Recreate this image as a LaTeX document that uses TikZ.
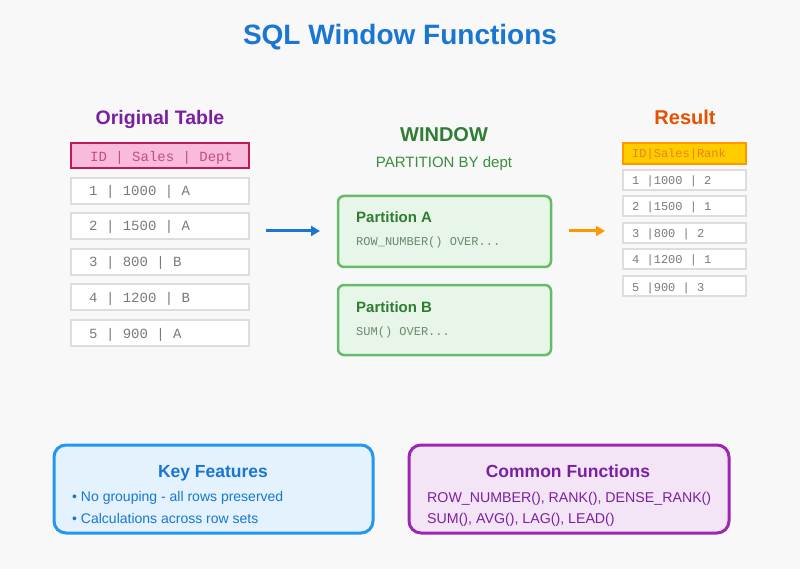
\documentclass[tikz,border=0pt]{standalone}
\usepackage{fontspec}
\setmainfont{Liberation Sans}
\setmonofont{Liberation Mono}
\usetikzlibrary{arrows.meta}
\definecolor{bgc}{HTML}{F8F8F8}
\definecolor{blueT}{HTML}{1976D2}
\definecolor{purT}{HTML}{7B1FA2}
\definecolor{pinkF}{HTML}{F8BBD9}
\definecolor{pinkS}{HTML}{C2185B}
\definecolor{pinkT}{HTML}{C84A80}
\definecolor{rowS}{HTML}{DDDDDD}
\definecolor{rowT}{HTML}{7A7A7A}
\definecolor{grT}{HTML}{2E7D32}
\definecolor{grT2}{HTML}{388E3C}
\definecolor{grT3}{HTML}{6A8A6C}
\definecolor{grF}{HTML}{E8F5E9}
\definecolor{grS}{HTML}{66BB6A}
\definecolor{orT}{HTML}{E65100}
\definecolor{orT2}{HTML}{E8821A}
\definecolor{orA}{HTML}{FF9800}
\definecolor{yelF}{HTML}{FFCC00}
\definecolor{kfF}{HTML}{E3F2FD}
\definecolor{kfS}{HTML}{2196F3}
\definecolor{cfF}{HTML}{F3E5F5}
\definecolor{cfS}{HTML}{9C27B0}
\tikzset{
  rowbox/.style={draw=rowS, line width=2pt, fill=white},
  rowtxt/.style={anchor=base west, inner sep=0pt, text=rowT, font=\fontsize{14}{14}\ttfamily},
  restxt/.style={anchor=base west, inner sep=0pt, text=rowT, font=\fontsize{12}{12}\ttfamily},
  partbox/.style={draw=grS, line width=2.5pt, fill=grF, rounded corners=6pt},
  bigbox/.style={line width=3pt, rounded corners=12pt},
  arr/.style={line width=3pt, -{Triangle[length=9pt,width=10pt]}},
}
\begin{document}
\begin{tikzpicture}[x=1pt,y=-1pt]
\fill[bgc] (0,0) rectangle (800,569);
\useasboundingbox (0,0) rectangle (800,569);

\node[anchor=base, inner sep=0pt, text=blueT, font=\fontsize{28}{28}\selectfont\bfseries] (title) at (400,45) {SQL Window Functions};

% Original table
\node[anchor=base, inner sep=0pt, text=purT, font=\fontsize{19.5}{20}\selectfont\bfseries] (origt) at (160,125) {Original Table};
\draw[draw=pinkS, line width=2pt, fill=pinkF] (71,143) rectangle (249,168);
\node[rowtxt, text=pinkT] (oh) at (90,162) {ID | Sales | Dept};
\foreach \y/\t [count=\i] in {178/{1 | 1000 | A},213/{2 | 1500 | A},249/{3 | 800 | B},284/{4 | 1200 | B},320/{5 | 900 | A}} {
  \draw[rowbox] (71,\y) rectangle (249,\y+26);
  \node[rowtxt] (or\i) at (89,\y+18) {\t};
}

% arrow 1
\coordinate (a1s) at (266,231);
\coordinate (a1e) at (320,231);
\draw[arr, blueT] (a1s) -- (a1e);

% Window
\node[anchor=base, inner sep=0pt, text=grT, font=\fontsize{20}{20}\selectfont\bfseries] (win) at (444,142) {WINDOW};
\node[anchor=base, inner sep=0pt, text=grT2, font=\fontsize{15}{15}\selectfont] (pby) at (444,168) {PARTITION BY dept};
\draw[partbox] (338,196) rectangle (551,267);
\node[anchor=base west, inner sep=0pt, text=grT, font=\fontsize{15}{15}\selectfont\bfseries] (pa) at (356,223) {Partition A};
\node[anchor=base west, inner sep=0pt, text=grT3, font=\fontsize{12}{12}\ttfamily] (pac) at (356,246) {ROW\_NUMBER() OVER...};
\draw[partbox] (338,285) rectangle (551,355);
\node[anchor=base west, inner sep=0pt, text=grT, font=\fontsize{15}{15}\selectfont\bfseries] (pb) at (356,312) {Partition B};
\node[anchor=base west, inner sep=0pt, text=grT3, font=\fontsize{12}{12}\ttfamily] (pbc) at (356,335) {SUM() OVER...};

% arrow 2
\coordinate (a2s) at (569,231);
\coordinate (a2e) at (605,231);
\draw[arr, orA] (a2s) -- (a2e);

% Result
\node[anchor=base, inner sep=0pt, text=orT, font=\fontsize{20}{20}\selectfont\bfseries] (res) at (685,125) {Result};
\draw[draw=orA, line width=1.5pt, fill=yelF] (623,143) rectangle (746,164);
\node[restxt, text=orT2] (rh) at (632,158) {ID|Sales|Rank};
\foreach \y/\t [count=\i] in {170/{1 |1000 | 2},196/{2 |1500 | 1},223/{3 |800 | 2},249/{4 |1200 | 1},276/{5 |900 | 3}} {
  \draw[rowbox] (623,\y) rectangle (746,\y+20);
  \node[restxt] (rr\i) at (632,\y+15) {\t};
}

% Key Features
\draw[bigbox, draw=kfS, fill=kfF] (54,445) rectangle (373,533);
\node[anchor=base, inner sep=0pt, text=blueT, font=\fontsize{17.5}{18}\selectfont\bfseries] (kft) at (213,477) {Key Features};
\node[anchor=base west, inner sep=0pt, text=blueT, font=\fontsize{14}{14}\selectfont] (kf1) at (72,501) {• No grouping - all rows preserved};
\node[anchor=base west, inner sep=0pt, text=blueT, font=\fontsize{14}{14}\selectfont] (kf2) at (72,523) {• Calculations across row sets};

% Common Functions
\draw[bigbox, draw=cfS, fill=cfF] (409,445) rectangle (729,533);
\node[anchor=base, inner sep=0pt, text=purT, font=\fontsize{17.5}{18}\selectfont\bfseries] (cft) at (568,477) {Common Functions};
\node[anchor=base west, inner sep=0pt, text=purT, font=\fontsize{14.2}{14}\selectfont] (cf1) at (427,502) {ROW\_NUMBER(), RANK(), DENSE\_RANK()};
\node[anchor=base west, inner sep=0pt, text=purT, font=\fontsize{14.2}{14}\selectfont] (cf2) at (427,523) {SUM(), AVG(), LAG(), LEAD()};
\end{tikzpicture}
\end{document}
